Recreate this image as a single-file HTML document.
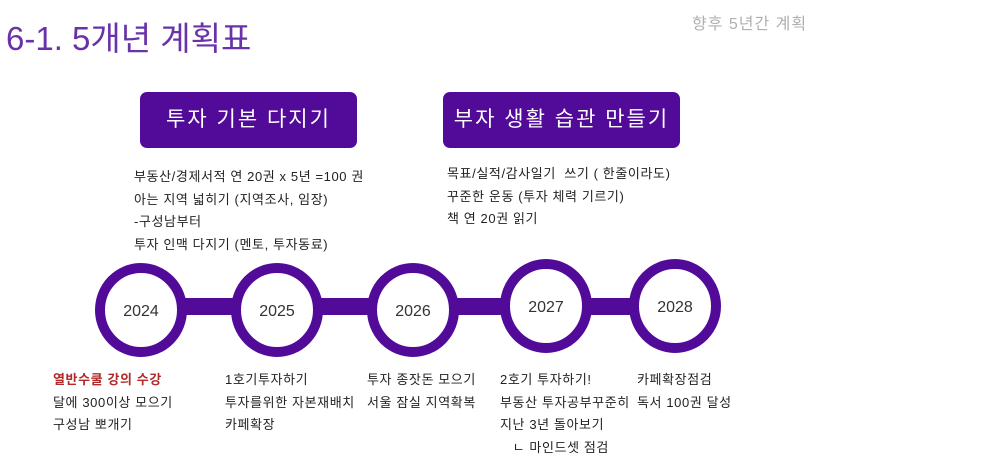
<!DOCTYPE html>
<html><head><meta charset="utf-8"><style>
body{margin:0;width:986px;height:458px;background:#fff;position:relative;overflow:hidden;font-family:"Liberation Sans","Noto Sans CJK KR",sans-serif;}
.a{position:absolute;white-space:nowrap;}
.t{font-size:13px;color:#222;line-height:22.7px;letter-spacing:0.6px;}
.box{position:absolute;background:#520b99;border-radius:7px;color:#fff;font-size:21px;text-align:center;line-height:56px;height:56px;top:92px;letter-spacing:2px;}
</style></head><body>
<div class="a" style="left:6px;top:12px;font-size:33px;color:#6a32a8;">6-1. 5개년 계획표</div>
<div class="a" style="left:692px;top:10px;font-size:16px;color:#b0b0b0;letter-spacing:1px;">향후 5년간 계획</div>
<div class="box" style="left:140px;width:217px;">투자 기본 다지기</div>
<div class="box" style="left:443px;width:237px;">부자 생활 습관 만들기</div>
<div class="a t" style="left:134px;top:166px;">부동산/경제서적 연 20권 x 5년 =100 권<br>아는 지역 넓히기 (지역조사, 임장)<br>-구성남부터<br>투자 인맥 다지기 (멘토, 투자동료)</div>
<div class="a t" style="left:447px;top:163px;">목표/실적/감사일기 &nbsp;쓰기 ( 한줄이라도)<br>꾸준한 운동 (투자 체력 기르기)<br>책 연 20권 읽기</div>
<svg class="a" style="left:0;top:0" width="986" height="458">
<rect x="141" y="298" width="534" height="17" fill="#520b99"/>
<g fill="#fff" stroke="#520b99" stroke-width="10">
<ellipse cx="141" cy="310" rx="41" ry="42"/>
<ellipse cx="277" cy="310" rx="41" ry="42"/>
<ellipse cx="413" cy="310" rx="41" ry="42"/>
<ellipse cx="546" cy="306" rx="41" ry="42"/>
<ellipse cx="675" cy="306" rx="41" ry="42"/>
</g>
<g font-family="Liberation Sans,sans-serif" font-size="16" fill="#333" text-anchor="middle">
<text x="141" y="316">2024</text><text x="277" y="316">2025</text><text x="413" y="316">2026</text><text x="546" y="312">2027</text><text x="675" y="312">2028</text>
</g></svg>
<div class="a t" style="left:53px;top:369px;"><span style="color:#b22a2a;font-weight:bold;">열반수쿨 강의 수강</span><br>달에 300이상 모으기<br>구성남 뽀개기</div>
<div class="a t" style="left:225px;top:369px;">1호기투자하기<br>투자를위한 자본재배치<br>카페확장</div>
<div class="a t" style="left:367px;top:369px;">투자 종잣돈 모으기<br>서울 잠실 지역확복</div>
<div class="a t" style="left:500px;top:369px;">2호기 투자하기!<br>부동산 투자공부꾸준히<br>지난 3년 돌아보기<br>&nbsp;&nbsp;&nbsp;ㄴ 마인드셋 점검</div>
<div class="a t" style="left:637px;top:369px;">카페확장점검<br>독서 100권 달성</div>
</body></html>
